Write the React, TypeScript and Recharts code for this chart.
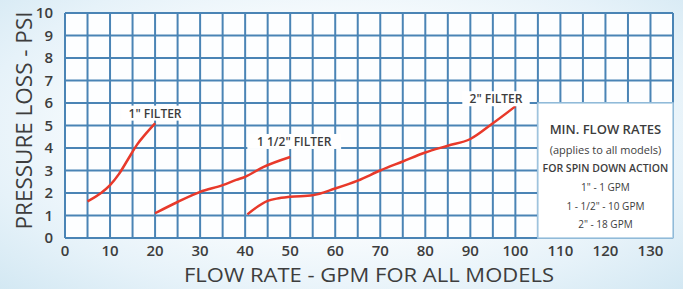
import React from 'react';
import {
  ComposedChart,
  Line,
  XAxis,
  YAxis,
  CartesianGrid,
  ReferenceArea,
  ReferenceDot,
} from 'recharts';

// ---- data ----
const xTicks = [0, 5, 10, 15, 20, 25, 30, 35, 40, 45, 50, 55, 60, 65, 70, 75, 80, 85, 90, 95, 100, 105, 110, 115, 120, 125, 130, 135];
const yTicks = [0, 1, 2, 3, 4, 5, 6, 7, 8, 9, 10];

const oneInchFlow = [5, 8, 10, 12, 14, 16, 18, 20];
const oneInchPsi = [1.63, 2.0, 2.35, 2.85, 3.5, 4.15, 4.65, 5.1];

const oneHalfFlow = [20, 25, 30, 35, 38, 40, 44, 50];
const oneHalfPsi = [1.1, 1.6, 2.05, 2.35, 2.58, 2.72, 3.15, 3.6];

const twoInchFlow = [40.5, 45, 47, 50, 55, 60, 65, 70, 75, 80, 85, 90, 95, 100];
const twoInchPsi = [1.05, 1.65, 1.75, 1.83, 1.9, 2.2, 2.55, 3.0, 3.4, 3.8, 4.1, 4.4, 5.1, 5.85];

const seriesLabels = ['1" FILTER', '1 1/2" FILTER', '2" FILTER'];
const labelX = [20, 50.9, 95.7];
const labelY = [5.55, 4.29, 6.19];

const boxLines = [
  'MIN. FLOW RATES',
  '(applies to all models)',
  'FOR SPIN DOWN ACTION',
  '1" - 1 GPM',
  '1 - 1/2" - 10 GPM',
  '2" - 18 GPM',
];
const boxRange = { x1: 105, x2: 135, y1: 0, y2: 6 };

const toRows = (xs: number[], ys: number[]) => xs.map((x, i) => ({ x, y: ys[i] }));
const oneInch = toRows(oneInchFlow, oneInchPsi);
const oneHalf = toRows(oneHalfFlow, oneHalfPsi);
const twoInch = toRows(twoInchFlow, twoInchPsi);

const FONT = '"Open Sans", "Noto Sans", sans-serif';
const TEXT = '#3d3d3d';
const GRID = '#4a84b5';
const RED = '#e8392a';

const Tag = (props: any) => {
  const { cx, cy, text } = props;
  const w = text.length * 6.6 + 8;
  return (
    <g>
      <rect x={cx - w / 2} y={cy - 7.5} width={w} height={15} fill="#ffffff" />
      <text
        x={cx}
        y={cy}
        textAnchor="middle"
        dominantBaseline="central"
        fontSize={12}
        fontWeight={600}
        fill={TEXT}
        fontFamily={FONT}
      >
        {text}
      </text>
    </g>
  );
};

const BoxContent = (props: any) => {
  const vb = props.viewBox || {};
  const cx = vb.x + vb.width / 2;
  const top = vb.y;
  const offs = [26, 46, 65, 84, 103, 121];
  const sizes = [13, 11, 10.5, 10, 10, 10];
  const weights = [600, 500, 600, 500, 500, 500];
  return (
    <g>
      {boxLines.map((t, i) => (
        <text
          key={i}
          x={cx}
          y={top + offs[i]}
          textAnchor="middle"
          dominantBaseline="central"
          fontSize={sizes[i]}
          fontWeight={weights[i]}
          fill={TEXT}
          fontFamily={FONT}
        >
          {t}
        </text>
      ))}
    </g>
  );
};

const XTitle = (props: any) => {
  const vb = props.viewBox || {};
  return (
    <text
      x={vb.x + vb.width / 2}
      y={vb.y + 44}
      textAnchor="middle"
      fontSize={20.5}
      fontWeight={500}
      fill={TEXT}
      fontFamily={FONT}
      textLength={370}
      lengthAdjust="spacingAndGlyphs"
    >
      FLOW RATE - GPM FOR ALL MODELS
    </text>
  );
};

const YTitle = (props: any) => {
  const vb = props.viewBox || {};
  const cx = 24;
  const cy = vb.y + vb.height / 2 - 5;
  return (
    <text
      x={cx}
      y={cy}
      transform={`rotate(-90 ${cx} ${cy})`}
      textAnchor="middle"
      dominantBaseline="central"
      fontSize={21}
      fontWeight={500}
      fill={TEXT}
      fontFamily={FONT}
      textLength={218}
      lengthAdjust="spacingAndGlyphs"
    >
      PRESSURE LOSS - PSI
    </text>
  );
};

export default function App() {
  return (
    <div
      style={{
        position: 'absolute',
        left: 0,
        top: 0,
        width: 683,
        height: 289,
        background: 'radial-gradient(ellipse at 50% 45%, #ffffff 35%, #e6f2f9 75%, #d3e8f3 100%)',
      }}
    >
      <ComposedChart width={683} height={289} margin={{ top: 13, right: 10, left: 0, bottom: 0 }}>
        <CartesianGrid
          stroke={GRID}
          strokeWidth={2}
          fill="#fdfeff"
          horizontalValues={yTicks}
          verticalValues={xTicks}
        />
        <XAxis
          type="number"
          dataKey="x"
          domain={[0, 135]}
          ticks={xTicks}
          interval={0}
          tickFormatter={(v: number) => (v % 10 === 0 && v <= 130 ? String(v) : '')}
          axisLine={false}
          tickLine={false}
          height={51}
          tickMargin={1}
          tick={{ fontSize: 15, fill: TEXT, fontFamily: FONT, fontWeight: 600 }}
          label={<XTitle />}
        />
        <YAxis
          type="number"
          dataKey="y"
          domain={[0, 10]}
          ticks={yTicks}
          interval={0}
          axisLine={false}
          tickLine={false}
          width={65}
          tickMargin={6}
          tick={{ fontSize: 15, fill: TEXT, fontFamily: FONT, fontWeight: 600 }}
          label={<YTitle />}
        />
        <ReferenceArea
          x1={boxRange.x1}
          x2={boxRange.x2}
          y1={boxRange.y1}
          y2={boxRange.y2}
          fill="#ffffff"
          fillOpacity={1}
          stroke="#a9cbe3"
          strokeWidth={1.5}
          label={<BoxContent />}
        />
        <Line data={oneInch} dataKey="y" type="monotone" stroke={RED} strokeWidth={2.5} dot={false} isAnimationActive={false} />
        <Line data={oneHalf} dataKey="y" type="monotone" stroke={RED} strokeWidth={2.5} dot={false} isAnimationActive={false} />
        <Line data={twoInch} dataKey="y" type="monotone" stroke={RED} strokeWidth={2.5} dot={false} isAnimationActive={false} />
        {seriesLabels.map((t, i) => (
          <ReferenceDot
            key={t}
            x={labelX[i]}
            y={labelY[i]}
            r={0}
            shape={(p: any) => <Tag cx={p.cx} cy={p.cy} text={t} />}
          />
        ))}
      </ComposedChart>
    </div>
  );
}
